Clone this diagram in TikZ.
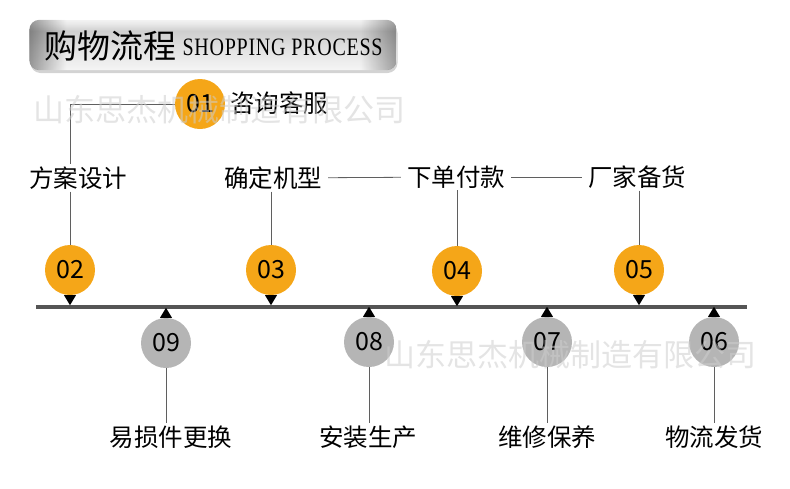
\documentclass[tikz,border=0pt]{standalone}
\usepackage{fontspec}
\setmainfont{Noto Sans CJK SC}
\newfontfamily\enserif[FakeStretch=0.8,LetterSpace=3]{Liberation Serif}
\usepackage{tikz}
\usetikzlibrary{positioning,shadows,calc}
\definecolor{amber}{RGB}{245,166,24}
\definecolor{ash}{RGB}{181,181,181}
\definecolor{track}{RGB}{85,85,85}
\definecolor{wire}{RGB}{95,95,95}
\definecolor{faint}{RGB}{205,205,205}
\newcommand{\cjk}[1]{\fontsize{#1}{#1}\selectfont}
\pgfdeclareverticalshading{headband}{100bp}{color(0bp)=(gray!8); color(25bp)=(gray!8);
  color(45bp)=(gray!22); color(64bp)=(gray!38); color(71bp)=(gray!18); color(75bp)=(gray!10);
  color(100bp)=(gray!10)}
\pgfdeclarehorizontalshading{headedge}{100bp}{color(0bp)=(gray!75); color(25bp)=(gray!75);
  color(30bp)=(white); color(70bp)=(white); color(75bp)=(gray!70); color(100bp)=(gray!70)}

\begin{document}
\begin{tikzpicture}[x=1pt,y=-1pt,
      every node/.style={inner sep=0pt},
      headbox/.style={rounded corners=10pt,minimum width=367pt,minimum height=50pt,
                      shading=headband,
                      drop shadow={shadow xshift=1pt,shadow yshift=-3pt,opacity=0.35}},
      dot/.style={circle,minimum size=50pt,font=\cjk{25}},
      upper/.style={dot,fill=amber},
      lower/.style={dot,fill=ash},
      stepname/.style={inner xsep=6pt,inner ysep=2pt,font=\cjk{24.5}},
      wire/.style={draw=wire,line width=0.8pt},
      watermark/.style={font=\cjk{31},text=faint,text opacity=0.55},
    ]
    \useasboundingbox (0,0) rectangle (790,488);

    % header
    \node[headbox] (head) at (213,45) {};
    \shade[shading=headedge,blend mode=multiply,rounded corners=10pt]
      (head.south west) rectangle (head.north east);
    \node[anchor=west,font=\cjk{33}] (ttl) at (44,46) {购物流程};
    \node[anchor=base west,font={\enserif\fontsize{25}{25}\selectfont}] (ttlen)
      at ($(ttl.base east)+(6,-3)$) {SHOPPING PROCESS};

    % time line
    \coordinate (tl) at (36,307);
    \coordinate (tr) at (747,307);
    \draw[track,line width=3.5pt] (tl) -- (tr);

    % upper steps
    \node[upper] (c01) at (200,104) {01};
    \node[upper] (c02) at (70,270) {02};
    \node[upper] (c03) at (271,270) {03};
    \node[upper] (c04) at (457,271) {04};
    \node[upper] (c05) at (639,270) {05};
    \node[stepname,anchor=west,inner xsep=2pt] (t01) at (228,103) {咨询客服};
    \node[stepname] (t02) at (78,178) {方案设计};
    \node[stepname] (t03) at (273,178) {确定机型};
    \node[stepname] (t04) at (456,177) {下单付款};
    \node[stepname] (t05) at (637,177) {厂家备货};

    % lower steps
    \node[lower] (c06) at (714,342) {06};
    \node[lower] (c07) at (547,342) {07};
    \node[lower] (c08) at (369,342) {08};
    \node[lower] (c09) at (166,343) {09};
    \node[stepname] (t06) at (714,437) {物流发货};
    \node[stepname] (t07) at (547,437) {维修保养};
    \node[stepname] (t08) at (368,437) {安装生产};
    \node[stepname] (t09) at (171,437) {易损件更换};

    % connectors
    \draw[wire] (c01) -| (c02.north |- t02.north);
    \draw[wire] (c02.north |- t02.south) -- (c02);
    \draw[wire] (t03) -- (t04);
    \draw[wire] (t04) -- (t05);
    \foreach \i in {03,04,05}
      \draw[wire] (c\i.north |- t\i.south) -- (c\i);
    \foreach \i in {06,07,08,09}
      \draw[wire] (c\i) -- (c\i.south |- t\i.north);

    % pointers
    \foreach \i in {02,03,04,05}
      \fill (c\i.south) ++(-6,0) -- ++(12,0) -- ++(-6,10) -- cycle;
    \foreach \i in {06,07,08,09}
      \fill (c\i.north) ++(-6,0) -- ++(12,0) -- ++(-6,-10) -- cycle;

    % watermark
    \node[watermark,anchor=west] (wm1) at (33,110) {山东思杰机械制造有限公司};
    \node[watermark,anchor=west] (wm2) at (384,355) {山东思杰机械制造有限公司};
  \end{tikzpicture}
\end{document}
